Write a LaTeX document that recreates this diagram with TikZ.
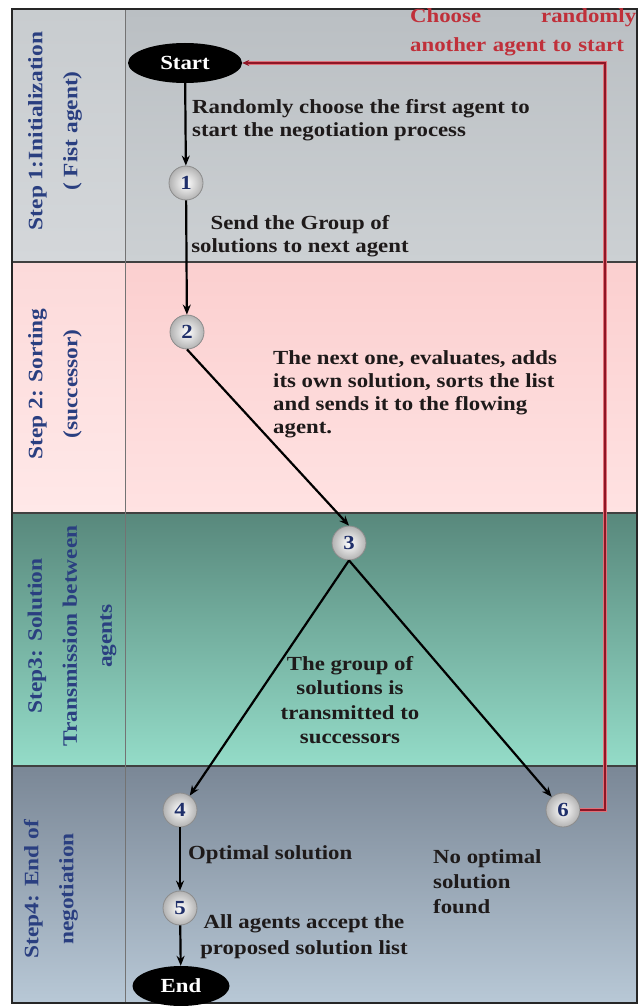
\documentclass[tikz,border=0pt]{standalone}
\usepackage{fontspec}
\setmainfont{Liberation Serif}
\newfontfamily\bodyfont[FakeStretch=1.14]{Liberation Serif}
\usetikzlibrary{shapes.geometric,arrows.meta}
\definecolor{lanetxt}{HTML}{2A3F80}
\definecolor{bodytxt}{HTML}{1E1A1A}
\definecolor{redln}{HTML}{8E1626}
\definecolor{redhalo}{HTML}{E07078}
\definecolor{redtxt}{HTML}{C0303A}
\definecolor{numtxt}{HTML}{1F2F6A}
\tikzset{
  flow/.style={draw=black, line width=2.2pt, -{Stealth[length=10pt,width=8pt]}},
  redhalostyle/.style={draw=redhalo, line width=4.2pt},
  redflow/.style={draw=redln, line width=2.2pt, -{Stealth[length=7pt,width=6pt]}},
  termbox/.style={ellipse, fill=black, text=white, inner sep=0pt,
     font=\bodyfont\bfseries\fontsize{20}{22}\selectfont},
  numbox/.style={circle, inner color=white, outer color=black!30, draw=black!45, line width=0.8pt,
     minimum size=34pt, inner sep=0pt, text=numtxt, font=\bodyfont\bfseries\fontsize{20}{20}\selectfont},
  lanelbl/.style={rotate=90, align=center, text=lanetxt, inner sep=0pt,
     font=\bodyfont\bfseries\fontsize{20.5}{35}\selectfont},
  bodytext/.style={inner sep=0pt, text=bodytxt, font=\bodyfont\bfseries\fontsize{20}{23}\selectfont},
  lanebord/.style={draw=black!75, line width=1.2pt}
}
\begin{document}
\begin{tikzpicture}[x=1pt,y=-1pt]
\useasboundingbox (0,0) rectangle (641,1006);
\fill[white] (0,0) rectangle (641,1006);
% lanes
\shade[top color={rgb,255:red,186;green,191;blue,195}, bottom color={rgb,255:red,204;green,208;blue,211}] (125,9) rectangle (637,262);
\shade[top color={rgb,255:red,200;green,204;blue,207}, bottom color={rgb,255:red,212;green,215;blue,218}] (12,9) rectangle (125,262);
\shade[top color={rgb,255:red,251;green,207;blue,207}, bottom color={rgb,255:red,255;green,226;blue,226}] (125,262) rectangle (637,513);
\shade[top color={rgb,255:red,252;green,218;blue,218}, bottom color={rgb,255:red,255;green,232;blue,232}] (12,262) rectangle (125,513);
\shade[top color={rgb,255:red,88;green,136;blue,124}, bottom color={rgb,255:red,148;green,220;blue,200}] (12,513) rectangle (637,766);
\shade[top color={rgb,255:red,122;green,135;blue,150}, bottom color={rgb,255:red,184;green,200;blue,214}] (12,766) rectangle (637,1003);
% borders
\draw[lanebord] (12,262) -- (637,262);
\draw[lanebord] (12,513) -- (637,513);
\draw[lanebord] (12,766) -- (637,766);
\draw[draw=black!55, line width=0.9pt] (125,9) -- (125,1003);
\draw[draw=black!85, line width=1.8pt] (12,9) rectangle (637,1003);

% lane labels
\node[lanelbl] (l1) at (55,131) {Step 1:Initialization\\( Fist agent)};
\node[lanelbl] (l2) at (55,384) {Step 2: Sorting\\(successor)};
\node[lanelbl] (l3) at (72,636) {Step3: Solution\\Transmission between\\agents};
\node[lanelbl] (l4) at (51,889) {Step4: End of\\negotiation};

% nodes
\node[termbox, minimum width=114pt, minimum height=40pt] (start) at (185,63) {Start};
\node[numbox] (c1) at (186,183) {1};
\node[numbox] (c2) at (187,332) {2};
\node[numbox] (c3) at (349,543) {3};
\node[numbox] (c4) at (180,810) {4};
\node[numbox] (c5) at (180,908) {5};
\node[numbox] (c6) at (563,810) {6};
\node[termbox, minimum width=97pt, minimum height=40pt] (end) at (181,986) {End};

% texts
\node[bodytext, anchor=north west, align=left] (t1) at (192,99) {Randomly choose the first agent to\\start the negotiation process};
\node[bodytext, anchor=north, align=center] (t2) at (300,215) {Send the Group of\\solutions to next agent};
\node[bodytext, anchor=north west, align=left] (t3) at (273,350) {The next one, evaluates, adds\\its own solution, sorts the list\\and sends it to the flowing\\agent.};
\node[bodytext, anchor=north, align=center, font=\bodyfont\bfseries\fontsize{20}{24.5}\selectfont] (t4) at (350,656) {The group of\\solutions is\\transmitted to\\successors};
\node[bodytext, anchor=north west] (t5) at (188,845) {Optimal solution};
\node[bodytext, anchor=north west, align=left, font=\bodyfont\bfseries\fontsize{20}{25}\selectfont] (t6) at (433,849) {No optimal\\solution\\found};
\node[bodytext, anchor=north, align=center, font=\bodyfont\bfseries\fontsize{20}{26}\selectfont] (t7) at (304,914) {All agents accept the\\proposed solution list};
\node[bodytext, anchor=north west, text width=226pt, align=left, text=redtxt, font=\bodyfont\bfseries\fontsize{20}{29}\selectfont] (t8) at (410,8) {Choose\hfill randomly\\another agent to start};

% connectors
\draw[flow] (start) -- (c1);
\draw[flow] (c1) -- (c2);
\draw[flow] (c2.south) -- (c3.north);
\draw[flow] (c3.south) -- (c4);
\draw[flow] (c3.south) -- (c6);
\draw[flow] (c4) -- (c5);
\draw[flow] (c5) -- (end);
\coordinate (rc) at (605,810);
\draw[redhalostyle] (c6.east) -- (rc) |- ([xshift=4pt]start.east);
\draw[redflow] (c6.east) -- (rc) |- (start.east);
\end{tikzpicture}
\end{document}
